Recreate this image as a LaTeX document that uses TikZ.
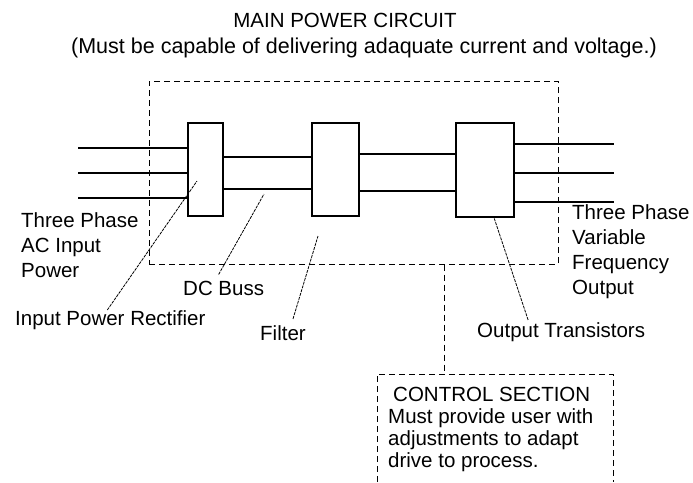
\documentclass[tikz,border=0pt]{standalone}
\usepackage{fontspec}
\setmainfont{Liberation Sans}
\begin{document}
\begin{tikzpicture}[x=1pt,y=-1pt,font=\fontsize{20.5}{25}\selectfont,
    blk/.style={draw,line width=1.2pt,inner sep=0pt,minimum height=93pt},
    frame/.style={draw,line width=1pt,dash pattern=on 6pt off 4pt},
    leader/.style={line width=0.8pt,dash pattern=on 3pt off 1pt},
    lbl/.style={inner sep=0pt,align=left,anchor=north west},
    wire/.style={line width=1.2pt}]
    \useasboundingbox (0,0) rectangle (693,482);
    % titles
    \node [inner sep=0pt,anchor=base] (title) at (345,27) {MAIN POWER CIRCUIT};
    \node [inner sep=0pt,anchor=base,font=\fontsize{21.5}{25}\selectfont] (subtitle) at (364,53) {(Must be capable of delivering adaquate current and voltage.)};
    % main power circuit
    \node [frame,minimum width=409pt,minimum height=183pt] (main) at (353.5,172.5) {};
    \node [blk,minimum width=35pt] (rect) at (205.5,169.5) {};
    \node [blk,minimum width=47pt] (filt) at (335.5,169.5) {};
    \node [blk,minimum width=58pt,minimum height=94pt] (outp) at (485,170) {};
    \foreach \y [count=\i] in {148,173,198} {
        \coordinate (in\i) at (78,\y);
        \draw [wire] (in\i) -- (rect.west |- in\i);
    }
    \foreach \y [count=\i] in {144,173,202} {
        \coordinate (out\i) at (614,\y);
        \draw [wire] (outp.east |- out\i) -- (out\i);
    }
    \draw [wire] (rect.east |- 0,157) -- (filt.west |- 0,157);
    \draw [wire] (rect.east |- 0,189) -- (filt.west |- 0,189);
    \draw [wire] (filt.east |- 0,154) -- (outp.west |- 0,154);
    \draw [wire] (filt.east |- 0,191) -- (outp.west |- 0,191);
    % labels
    \node [lbl] (inpow) at (21,212) {Three Phase\\AC Input\\Power};
    \node [lbl] (outpow) at (572,204) {Three Phase\\Variable\\Frequency\\Output};
    \node [inner sep=0pt,anchor=base west] (ipr) at (15,325) {Input Power Rectifier};
    \node [inner sep=0pt,anchor=base west] (dcb) at (183,295) {DC Buss};
    \node [inner sep=0pt,anchor=base west] (flt) at (260,340) {Filter};
    \node [inner sep=0pt,anchor=base west] (otr) at (477,337) {Output Transistors};
    % leaders
    \coordinate (recttip) at (197,181);
    \coordinate (bustip) at (264,194);
    \coordinate (filttip) at (318,236);
    \draw [leader] ([xshift=-3pt]ipr.north) -- (recttip);
    \draw [leader] ([xshift=-5pt,yshift=6pt]dcb.north) -- (bustip);
    \draw [leader] ([xshift=10pt,yshift=6pt]flt.north) -- (filttip);
    \draw [leader] ([xshift=-33pt,yshift=2pt]otr.north) -- ([xshift=9pt]outp.south);
    % control section
    \coordinate (ctltop) at (444,374);
    \draw [frame] (377,482) |- (613,374) -- (613,482);
    \draw [frame] (main.south -| ctltop) -- (ctltop);
    \node [lbl,font=\fontsize{20.5}{22}\selectfont] (ctl) at (388,387) {\hspace*{5pt}CONTROL SECTION\\Must provide user with\\adjustments to adapt\\drive to process.};
\end{tikzpicture}
\end{document}
